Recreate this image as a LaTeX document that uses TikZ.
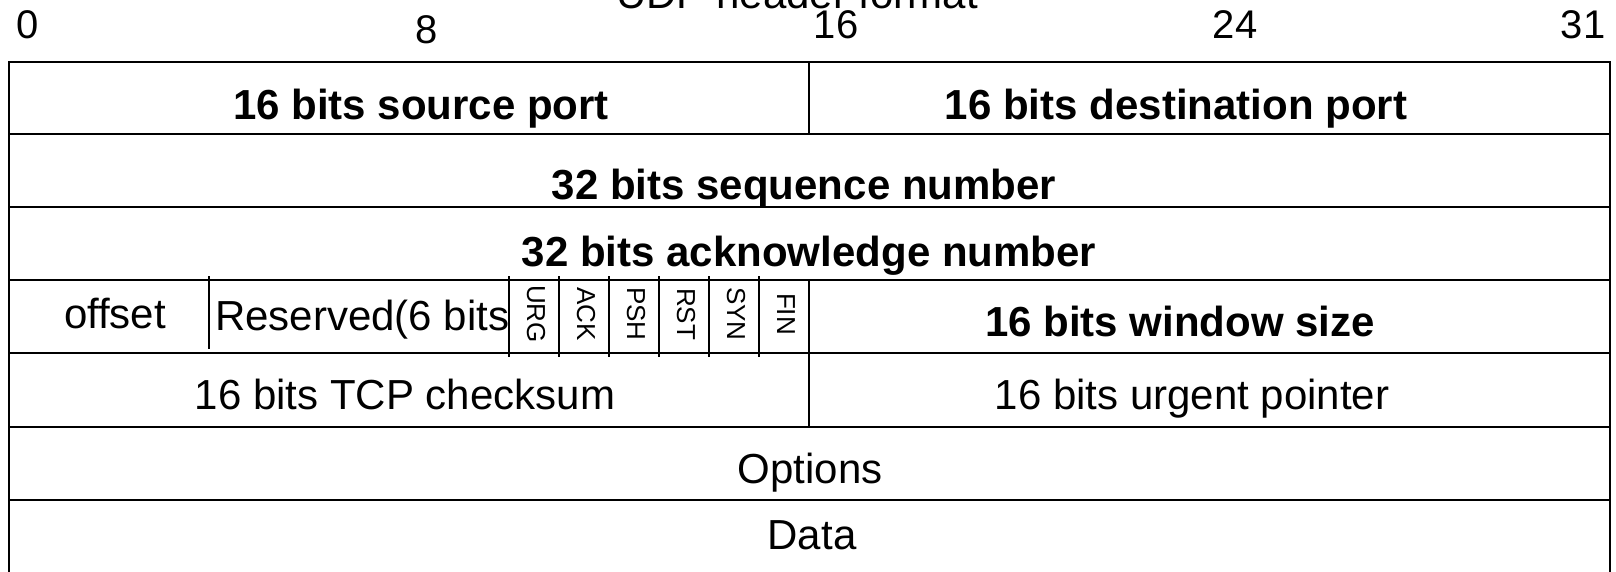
\documentclass[tikz,border=0pt]{standalone}
\usepackage{fontspec}
\setmainfont{Liberation Sans}
\tikzset{
  lbl/.style={anchor=base, inner sep=0pt, font=\fontsize{42}{50}\selectfont},
  blbl/.style={lbl, font=\fontsize{42}{50}\selectfont\bfseries},
  num/.style={anchor=base, inner sep=0pt, font=\fontsize{40}{48}\selectfont},
  flag/.style={rotate=-90, inner sep=0pt, font=\fontsize{26}{30}\selectfont},
  grid/.style={line width=2.4pt, black}
}
\begin{document}
\begin{tikzpicture}[x=1pt,y=-1pt]
\useasboundingbox (0,0) rectangle (1616,571);
\clip (0,0) rectangle (1616,571);
\fill[white] (0,0) rectangle (1616,571);
% frame and rows
\draw[grid] (9,62) rectangle (1610,585);
\foreach \yy in {134,207,280,353,427,500} \draw[grid] (9,\yy) -- (1610,\yy);
\draw[grid] (809,62) -- (809,134);
\draw[grid] (809,280) -- (809,427);
\draw[grid] (209,276) -- (209,349);
\foreach \xx in {509,559,609,659,709,759} \draw[grid] (\xx,276) -- (\xx,357);
% title and bit numbers
\node[lbl] (title) at (797,8) {UDP header format};
\node[num] (b0) at (28,38) {0};
\node[num] (b8) at (427,43) {8};
\node[num] (b16) at (836,38) {16};
\node[num] (b24) at (1235,38) {24};
\node[num] (b31) at (1583,38) {31};
% row texts
\node[blbl] (src) at (421,119) {16 bits source port};
\node[blbl] (dst) at (1176,119) {16 bits destination port};
\node[blbl] (seq) at (804,199) {32 bits sequence number};
\node[blbl] (ack) at (809,266) {32 bits acknowledge number};
\node[lbl] (off) at (115,328) {offset};
\node[lbl, anchor=base west] (res) at (215,330) {Reserved(6 bits};
\node[flag] (urg) at (536,314) {URG};
\node[flag] (fack) at (586,314) {ACK};
\node[flag] (psh) at (636,314) {PSH};
\node[flag] (rst) at (686,314) {RST};
\node[flag] (syn) at (736,314) {SYN};
\node[flag] (fin) at (786,314) {FIN};
\node[blbl] (win) at (1180,336) {16 bits window size};
\node[lbl] (chk) at (405,409) {16 bits TCP checksum};
\node[lbl] (urgp) at (1192,409) {16 bits urgent pointer};
\node[lbl] (opt) at (810,483) {Options};
\node[lbl] (data) at (812,549) {Data};
\end{tikzpicture}
\end{document}
